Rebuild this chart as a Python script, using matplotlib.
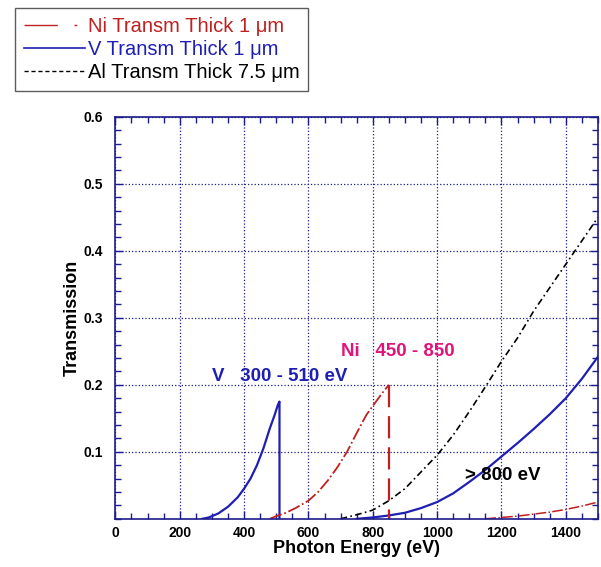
import matplotlib.pyplot as plt
from matplotlib.lines import Line2D
from matplotlib.ticker import MultipleLocator, FixedLocator

plt.rcParams['font.family'] = ['Liberation Sans', 'DejaVu Sans']

NAVY = '#1c1c8a'
BLUE = '#1f1fb4'
RED = '#c02020'
MAGENTA = '#e0157a'

# Vanadium 1 um, 300 - 510 eV window
v_lo_e = [270, 290, 320, 350, 380, 400, 420, 440, 460, 480, 495, 505, 510, 510]
v_lo_t = [0.0, 0.002, 0.008, 0.018, 0.032, 0.045, 0.06, 0.08, 0.105, 0.135,
          0.155, 0.17, 0.175, 0.0]
# Vanadium above 800 eV
v_hi_e = [750, 800, 850, 900, 950, 1000, 1050, 1100, 1150, 1200, 1250, 1300,
          1350, 1400, 1450, 1500]
v_hi_t = [0.0, 0.002, 0.005, 0.009, 0.016, 0.025, 0.038, 0.055, 0.073, 0.093,
          0.113, 0.134, 0.156, 0.18, 0.209, 0.242]

# Nickel 1 um, 450 - 850 eV window
ni_lo_e = [480, 500, 530, 560, 600, 630, 660, 690, 720, 750, 780, 810, 830, 850]
ni_lo_t = [0.0, 0.004, 0.009, 0.016, 0.027, 0.04, 0.057, 0.077, 0.1, 0.128,
           0.155, 0.175, 0.188, 0.2]
ni_edge_e = [850, 850]
ni_edge_t = [0.2, 0.0]
ni_hi_e = [1150, 1200, 1250, 1300, 1350, 1400, 1450, 1500]
ni_hi_t = [0.0, 0.002, 0.004, 0.007, 0.01, 0.014, 0.019, 0.025]

# Aluminium 7.5 um
al_e = [700, 750, 800, 850, 900, 950, 1000, 1050, 1100, 1150, 1200,
        1250, 1300, 1350, 1400, 1450, 1500]
al_t = [0.0, 0.006, 0.013, 0.027, 0.045, 0.07, 0.095, 0.125, 0.16, 0.197,
        0.235, 0.27, 0.31, 0.345, 0.38, 0.415, 0.45]

x_ticks = [0, 200, 400, 600, 800, 1000, 1200, 1400]
y_ticks = [0.1, 0.2, 0.3, 0.4, 0.5, 0.6]

fig = plt.figure(figsize=(6.01, 5.67), dpi=100, facecolor='white')
ax = fig.add_axes([0.192, 0.085, 0.803, 0.709])

ni_style = (0, (7, 1.5, 1, 1.5))
ax.plot(v_lo_e, v_lo_t, color=BLUE, lw=1.6)
ax.plot(v_hi_e, v_hi_t, color=BLUE, lw=1.6)
ax.plot(ni_lo_e, ni_lo_t, color=RED, lw=1.3, ls=ni_style)
ax.plot(ni_edge_e, ni_edge_t, color=RED, lw=1.6, ls=(0, (10, 4)))
ax.plot(ni_hi_e, ni_hi_t, color=RED, lw=1.1, ls=ni_style)
ax.plot(al_e, al_t, color='black', lw=1.2, ls=(0, (4, 2, 1, 2)))

ax.set_xlim(0, 1500)
ax.set_ylim(0, 0.6)
ax.xaxis.set_major_locator(FixedLocator(x_ticks))
ax.xaxis.set_minor_locator(MultipleLocator(50))
ax.yaxis.set_major_locator(FixedLocator(y_ticks))
ax.yaxis.set_minor_locator(MultipleLocator(0.02))
ax.set_xticklabels([str(v) for v in x_ticks], fontsize=10, fontweight='bold')
ax.set_yticklabels([f'{v:.1f}' for v in y_ticks], fontsize=10, fontweight='bold')
ax.tick_params(which='both', direction='in', top=True, right=True, color=NAVY)
ax.tick_params(which='major', length=6, width=1)
ax.tick_params(which='minor', length=4, width=1)
ax.tick_params(axis='x', pad=5)
ax.tick_params(axis='y', pad=9)
for s in ax.spines.values():
    s.set_color(NAVY)
    s.set_linewidth(1.2)
ax.grid(True, which='major', color=NAVY, ls=':', lw=0.9)

ax.set_xlabel('Photon Energy (eV)', fontsize=13, fontweight='bold', labelpad=0)
ax.set_ylabel('Transmission', fontsize=13, fontweight='bold', labelpad=2)

ax.text(300, 0.212, 'V   300 - 510 eV', color=BLUE, fontsize=13.5,
        fontweight='bold', ha='left', va='center')
ax.text(700, 0.25, 'Ni   450 - 850', color=MAGENTA, fontsize=13.5,
        fontweight='bold', ha='left', va='center')
ax.text(1088, 0.064, '> 800 eV', color='black', fontsize=13.5,
        fontweight='bold', ha='left', va='center')

handles = [
    Line2D([], [], color=RED, lw=1, ls=(0, (24, 12, 2, 20))),
    Line2D([], [], color=BLUE, lw=1.2),
    Line2D([], [], color='black', lw=1, ls=(0, (3, 2))),
]
labels = ['Ni Transm Thick 1 \u03bcm', 'V Transm Thick 1 \u03bcm',
          'Al Transm Thick 7.5 \u03bcm']
leg = fig.legend(handles, labels, loc='upper left', bbox_to_anchor=(0.025, 0.986),
                 fontsize=14.5, frameon=True, fancybox=False, handlelength=3.0,
                 handletextpad=0.15, labelspacing=0.2, borderpad=0.45,
                 borderaxespad=0)
leg.get_frame().set_edgecolor('#333333')
leg.get_frame().set_linewidth(1)
for t, c in zip(leg.get_texts(), [RED, BLUE, 'black']):
    t.set_color(c)

fig.savefig('out.png', dpi=100, facecolor='white')
